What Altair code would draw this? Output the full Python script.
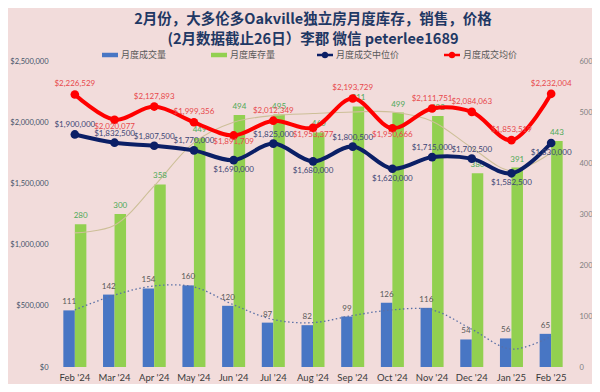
import altair as alt
import pandas as pd

months = ["Feb '24", "Mar '24", "Apr '24", "May '24", "Jun '24", "Jul '24", "Aug '24",
          "Sep '24", "Oct '24", "Nov '24", "Dec '24", "Jan '25", "Feb '25"]
sales = [111, 142, 154, 160, 120, 87, 82, 99, 126, 116, 54, 56, 65]
inventory = [280, 300, 358, 449, 494, 495, 460, 511, 499, 492, 380, 391, 443]
median_price = [1900000, 1832500, 1807500, 1770000, 1690000, 1825000, 1680000,
                1800500, 1620000, 1715000, 1702500, 1582500, 1830000]
avg_price = [2226529, 2020077, 2127893, 1999356, 1891709, 2012349, 1953377,
             2193729, 1950666, 2111751, 2084063, 1853519, 2232004]
sales_trend = [112, 141, 159, 157, 122, 93, 87, 101, 112, 112, 74, 35, 60]
inventory_trend = [263, 278, 355, 440, 480, 493, 497, 500, 500, 482, 430, 385, 420]
median_label_pos = ["above", "above", "above", "above", "below", "above", "below",
                    "above", "below", "above", "above", "below", "below"]
avg_label_pos = ["above", "below", "above", "above", "below", "above", "below",
                 "above", "below", "above", "above", "above", "above"]

S_SALES, S_INV, S_MED, S_AVG = "月度成交量", "月度库存量", "月度成交中位价", "月度成交均价"

bars_df = pd.DataFrame({
    "month": months * 2,
    "series": [S_SALES] * 13 + [S_INV] * 13,
    "value": sales + inventory,
})
trend_df = pd.DataFrame({
    "month": months * 2,
    "trend": ["s"] * 13 + ["i"] * 13,
    "value": sales_trend + inventory_trend,
})
price_df = pd.DataFrame({
    "month": months * 2,
    "series": [S_MED] * 13 + [S_AVG] * 13,
    "price": median_price + avg_price,
    "pos": median_label_pos + avg_label_pos,
})

BLUE, GREEN, NAVY, RED = "#4876C4", "#92D050", "#0B1F66", "#FF0000"
bar_scale = alt.Scale(domain=[S_SALES, S_INV], range=[BLUE, GREEN])
line_scale = alt.Scale(domain=[S_MED, S_AVG], range=[NAVY, RED])

legend_common = dict(
    title=None, orient="none", direction="horizontal", padding=0,
    labelFontSize=9, labelFont="Noto Sans CJK SC", labelColor="#595959",
    symbolSize=256, columnPadding=44, labelOffset=3, symbolStrokeWidth=0,
)
bar_legend = alt.Legend(legendX=47, legendY=-14,
                        symbolType="M-1,-0.28L1,-0.28L1,0.28L-1,0.28Z", **legend_common)
line_legend = alt.Legend(
    legendX=262, legendY=-14,
    symbolType="M-1,-0.17L1,-0.17L1,0.17L-1,0.17Z M-0.42,0A0.42,0.42,0,1,1,0.42,0A0.42,0.42,0,1,1,-0.42,0Z",
    **legend_common)

x_enc = alt.X("month:N", sort=months,
              scale=alt.Scale(paddingInner=0.42, paddingOuter=0.21),
              axis=alt.Axis(title=None, labelAngle=0, domain=False, ticks=False,
                            labelFontSize=9.5, labelFont="Lato", labelColor="#3A3A3A",
                            labelPadding=5))

y_count = alt.Y("value:Q", scale=alt.Scale(domain=[0, 600]),
                axis=alt.Axis(orient="right", values=[0, 100, 200, 300, 400, 500, 600],
                              grid=False, domain=False, ticks=False, title=None,
                              labelFontSize=7.5, labelFont="Lato", labelColor="#7F7F7F",
                              labelPadding=8))
y_price = alt.Y("price:Q", scale=alt.Scale(domain=[0, 2500000]),
                axis=alt.Axis(orient="left", format="$,.0f",
                              values=[0, 500000, 1000000, 1500000, 2000000, 2500000],
                              grid=False, domain=False, ticks=False, title=None,
                              labelFontSize=7.5, labelFont="Lato", labelColor="#44546A",
                              labelPadding=7))

xoff = alt.XOffset("series:N", sort=[S_SALES, S_INV],
                   scale=alt.Scale(paddingInner=0, paddingOuter=0))

bars = alt.Chart(bars_df).mark_bar().encode(
    x=x_enc, xOffset=xoff, y=y_count,
    color=alt.Color("series:N", scale=bar_scale, legend=bar_legend),
)


def bar_label(series, color):
    return alt.Chart(bars_df).transform_filter(
        alt.datum.series == series
    ).mark_text(fontSize=8, font="Lato", dy=-8, baseline="middle", color=color).encode(
        x=x_enc, xOffset=xoff, y=y_count, text="value:Q")


inv_trend = alt.Chart(trend_df).transform_filter("datum.trend == 'i'").mark_line(
    interpolate="catmull-rom", color="#CDBF98", strokeWidth=1.1
).encode(x=x_enc, y=y_count)
sales_trend_line = alt.Chart(trend_df).transform_filter("datum.trend == 's'").mark_line(
    interpolate="catmull-rom", color="#5A6FA6", strokeWidth=1.3, strokeDash=[1.5, 2.5]
).encode(x=x_enc, y=y_count)

count_layer = alt.layer(bars, inv_trend, sales_trend_line,
                        bar_label(S_SALES, "#595959"), bar_label(S_INV, "#4FA957"))


def price_line(series, color):
    return alt.Chart(price_df).transform_filter(
        alt.datum.series == series
    ).mark_line(interpolate="catmull-rom", strokeWidth=4, color=color).encode(
        x=x_enc, y=y_price)


points = alt.Chart(price_df).mark_point(filled=True, size=75, opacity=1).encode(
    x=x_enc, y=y_price,
    fill=alt.Fill("series:N", scale=line_scale, legend=line_legend),
)


def price_label(series, pos, color, dy):
    return alt.Chart(price_df).transform_filter(
        (alt.datum.series == series) & (alt.datum.pos == pos)
    ).mark_text(fontSize=8, font="Lato", dy=dy,
                baseline="middle", color=color).encode(
        x=x_enc, y=y_price, text=alt.Text("price:Q", format="$,.0f"))


price_layer = alt.layer(
    price_line(S_MED, NAVY), price_line(S_AVG, RED), points,
    price_label(S_MED, "above", "#3D4675", -9), price_label(S_MED, "below", "#3D4675", 10),
    price_label(S_AVG, "above", "#E8484B", -10), price_label(S_AVG, "below", "#E8484B", 7),
)

chart = alt.layer(count_layer, price_layer).resolve_scale(y="independent").properties(
    width=516, height=306,
    background="#F2DCDB",
    padding={"left": 47, "top": 53, "right": 21, "bottom": 17},
    autosize=alt.AutoSizeParams(type="none"),
    title=alt.TitleParams(
        text=["2月份，大多伦多Oakville独立房月度库存，销售，价格",
              "(2月数据截止26日）李郡  微信 peterlee1689"],
        font="Noto Sans CJK SC", fontSize=14.5, fontWeight="bold", color="#1F3864",
        anchor="middle", frame="group", offset=0, lineHeight=20,
    ),
).configure_view(stroke=None)

chart.save("out.html", embed_options={"renderer": "svg", "actions": False})
